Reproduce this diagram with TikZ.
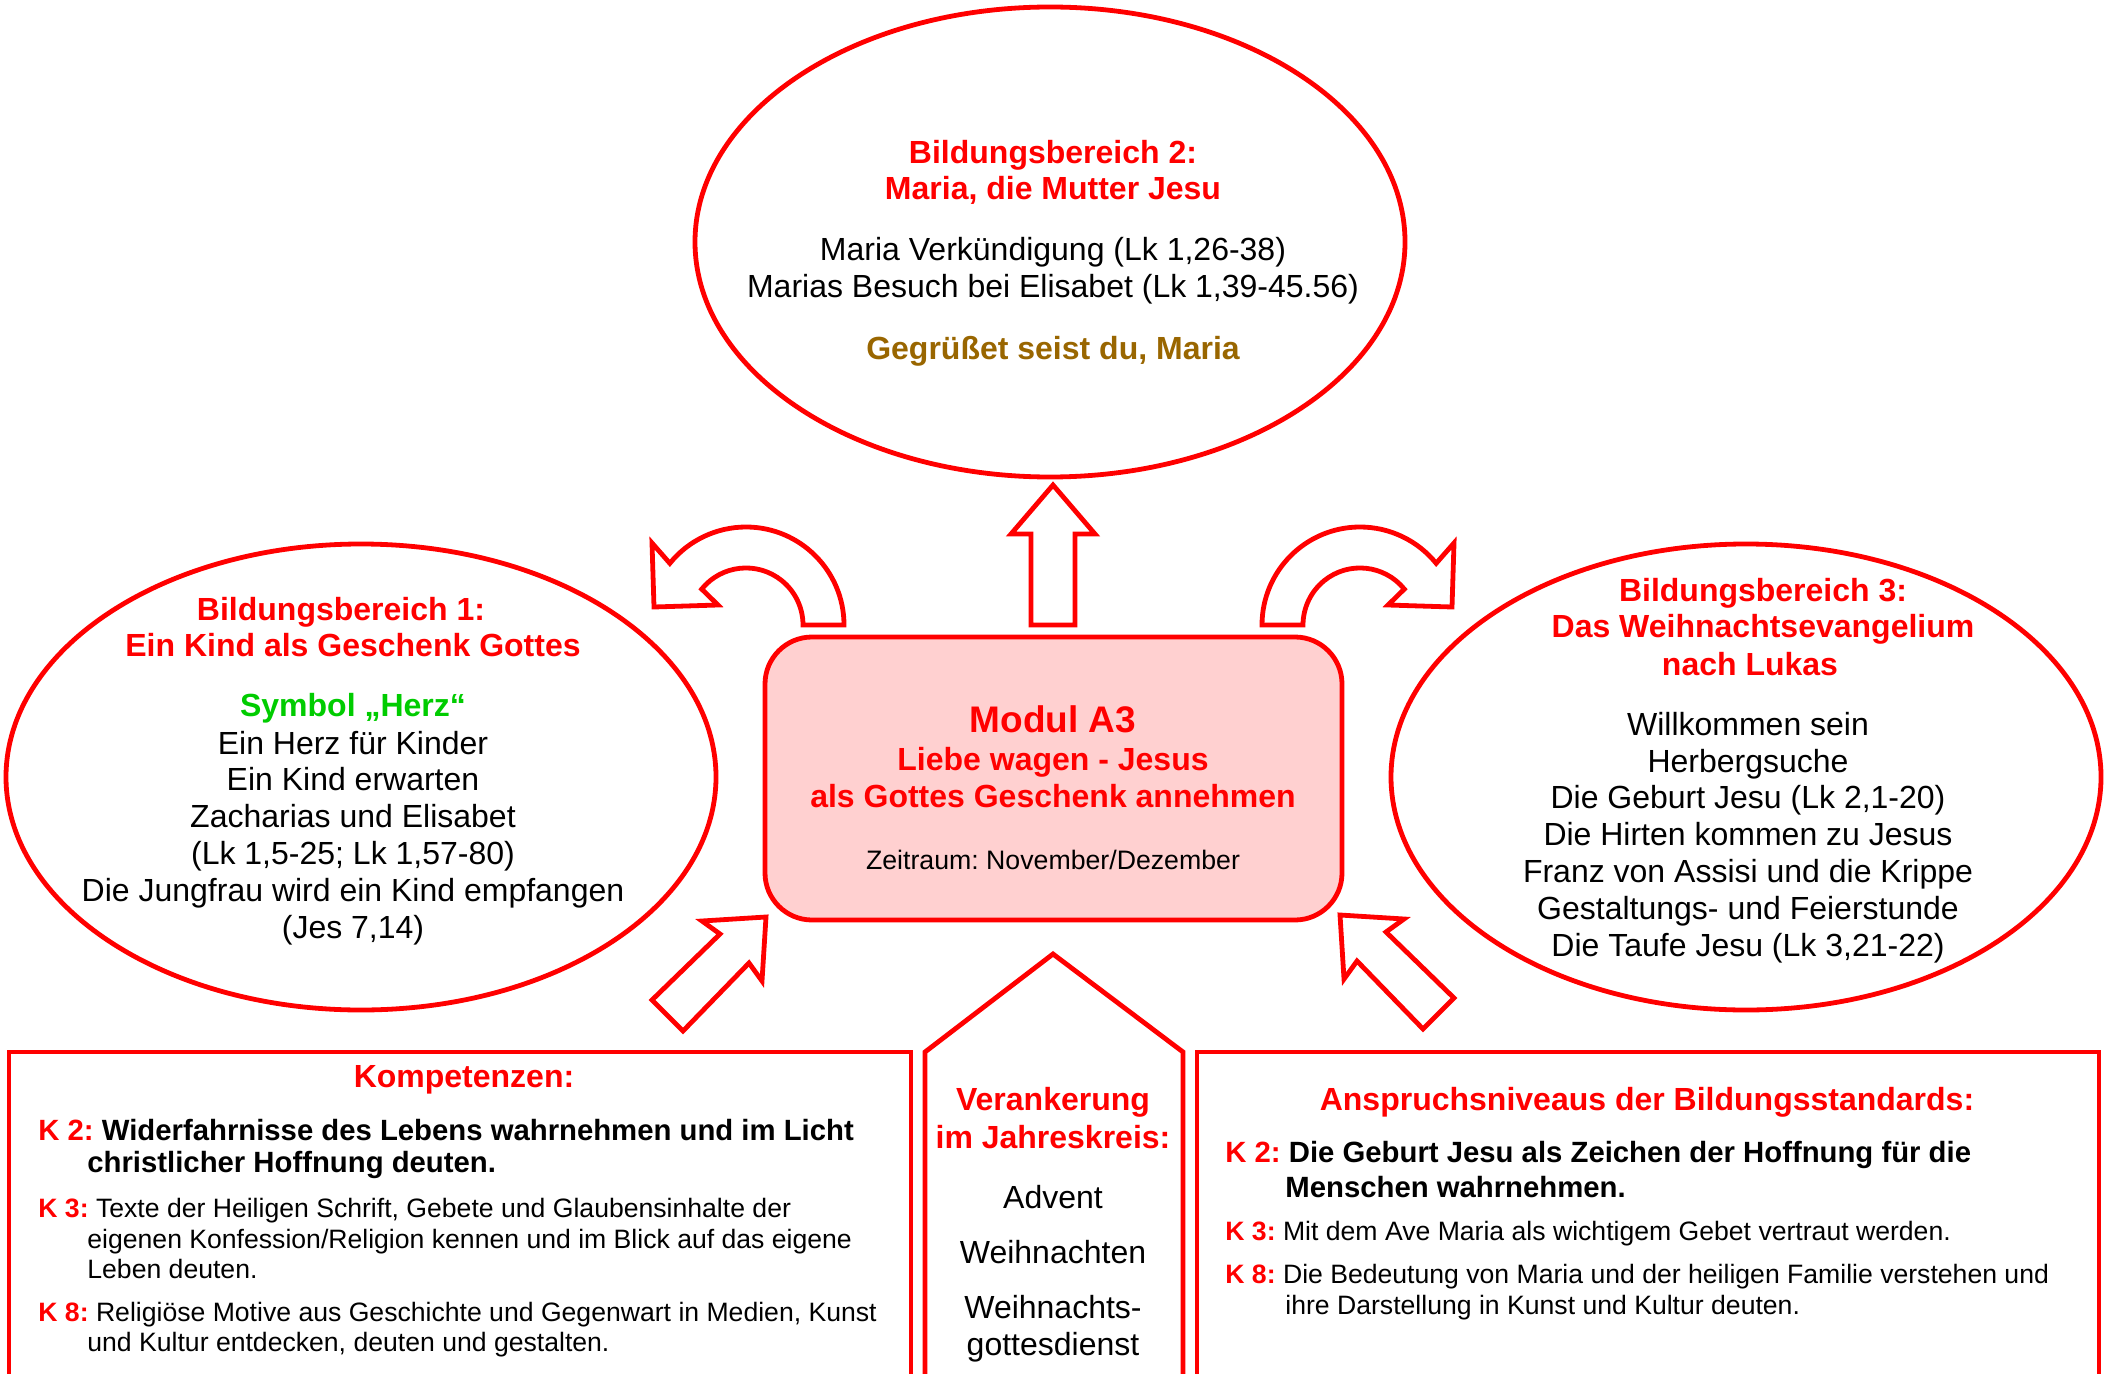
\documentclass[tikz,border=0pt]{standalone}
\usepackage{fontspec}
\setmainfont{Liberation Sans}
\usetikzlibrary{shapes.geometric}
\frenchspacing

\definecolor{greeting}{RGB}{153,102,0}
\definecolor{herzgreen}{RGB}{0,204,0}
\definecolor{modulfill}{RGB}{255,208,208}

% font sizes
\newcommand\szmain{\fontsize{16pt}{18.4pt}\selectfont}
\newcommand\szmodul{\fontsize{18.5pt}{21pt}\selectfont}
\newcommand\szzeit{\fontsize{13.35pt}{15pt}\selectfont}
\newcommand\szkbig{\fontsize{14.65pt}{16.5pt}\selectfont}
\newcommand\szksmall{\fontsize{13.3pt}{15pt}\selectfont}
\newcommand\klabel[1]{\textcolor{red}{\bfseries #1}}

\tikzset{
  outline/.style={draw=red, line width=2.4pt, line join=miter, miter limit=10},
  bubble/.style={outline, ellipse, inner sep=0pt, fill=white},
  lbl/.style={inner sep=0pt, anchor=base},
  lblw/.style={inner sep=0pt, anchor=base west},
  headline/.style={lbl, font=\szmain\bfseries, text=red},
  plain/.style={lbl, font=\szmain},
  kbig/.style={lblw, font=\szkbig\bfseries},
  ksmall/.style={lblw, font=\szksmall},
  blockarrow/.style={outline, fill=white},
}

\begin{document}
\begin{tikzpicture}[x=0.5pt,y=-0.5pt]
\useasboundingbox (0,0) rectangle (2107,1374);
\clip (0,0) rectangle (2107,1374);
\fill[white] (0,0) rectangle (2107,1374);

% --- three topic ellipses ---
\node[bubble, minimum width=355pt, minimum height=235pt] (bb2) at (1050,242) {};
\node[bubble, minimum width=355pt, minimum height=233pt] (bb1) at (361,777) {};
\node[bubble, minimum width=355pt, minimum height=233pt] (bb3) at (1746,777) {};

% --- module box in the middle ---
\node[outline, fill=modulfill, rounded corners=23.5pt, minimum width=288.5pt,
      minimum height=141.5pt, inner sep=0pt] (modul) at (1053.5,778.5) {};

% --- block arrows around the module box ---
\draw[blockarrow] (1053,485) -- (1095,534) -- (1075,534) -- (1075,625)
  -- (1031,625) -- (1031,534) -- (1011,534) -- cycle;
\draw[blockarrow] (844,625) arc[start angle=0, end angle=-141, radius=98]
  -- (652,543) -- (654,607) -- (718,605) -- (701.7,589.1)
  arc[start angle=-141, end angle=0, radius=57] -- cycle;
\draw[blockarrow] (1262,625) arc[start angle=180, end angle=321, radius=98]
  -- (1454,543) -- (1452,607) -- (1388,605) -- (1404.3,589.1)
  arc[start angle=321, end angle=180, radius=57] -- cycle;
\draw[blockarrow] (766,917) -- (762,981) -- (749,963) -- (683,1031)
  -- (652,1000) -- (720,934) -- (702,921) -- cycle;
\draw[blockarrow] (1340,915) -- (1404,919) -- (1386,932) -- (1454,998)
  -- (1423,1029) -- (1357,961) -- (1344,979) -- cycle;

% --- bottom panels (open at the lower edge) ---
\draw[outline] (9,1380) -- (9,1052) -- (911,1052) -- (911,1380);
\draw[outline] (925,1380) -- (925,1052) -- (1053,954) -- (1183,1052) -- (1183,1380);
\draw[outline] (1197,1380) -- (1197,1052) -- (2099,1052) -- (2099,1380);

% --- Bildungsbereich 2 ---
\node[headline] (b2t1) at (1053,163.5) {Bildungsbereich 2:};
\node[headline] (b2t2) at (1053,199.5) {Maria, die Mutter Jesu};
\node[plain] (b2l1) at (1053,260.5) {Maria Verkündigung (Lk 1,26-38)};
\node[plain] (b2l2) at (1053,297.5) {Marias Besuch bei Elisabet (Lk 1,39-45.56)};
\node[lbl, font=\szmain\bfseries, text=greeting] (b2l3) at (1053,359.5) {Gegrüßet seist du, Maria};

% --- Bildungsbereich 1 ---
\node[headline] (b1t1) at (341,620.5) {Bildungsbereich 1:};
\node[headline] (b1t2) at (353,656.5) {Ein Kind als Geschenk Gottes};
\node[lbl, font=\szmain\bfseries, text=herzgreen] (b1l1) at (353,716.5) {Symbol „Herz“};
\node[plain] (b1l2) at (353,754.5) {Ein Herz für Kinder};
\node[plain] (b1l3) at (353,790.5) {Ein Kind erwarten};
\node[plain] (b1l4) at (353,827.5) {Zacharias und Elisabet};
\node[plain] (b1l5) at (353,864.5) {(Lk 1,5-25; Lk 1,57-80)};
\node[plain] (b1l6) at (353,901.5) {Die Jungfrau wird ein Kind empfangen};
\node[plain] (b1l7) at (353,938.5) {(Jes 7,14)};

% --- Bildungsbereich 3 ---
\node[headline] (b3t1) at (1763,601.5) {Bildungsbereich 3:};
\node[headline] (b3t2) at (1763,637.5) {Das Weihnachtsevangelium};
\node[headline] (b3t3) at (1750,675.5) {nach Lukas};
\node[plain] (b3l1) at (1748,735.5) {Willkommen sein};
\node[plain] (b3l2) at (1748,772.5) {Herbergsuche};
\node[plain] (b3l3) at (1748,808.5) {Die Geburt Jesu (Lk 2,1-20)};
\node[plain] (b3l4) at (1748,845.5) {Die Hirten kommen zu Jesus};
\node[plain] (b3l5) at (1748,882.5) {Franz von Assisi und die Krippe};
\node[plain] (b3l6) at (1748,919.5) {Gestaltungs- und Feierstunde};
\node[plain] (b3l7) at (1748,956.5) {Die Taufe Jesu (Lk 3,21-22)};

% --- module text ---
\node[lbl, font=\szmodul\bfseries, text=red] (m1) at (1053,732) {Modul A3};
\node[headline] (m2) at (1053,770.5) {Liebe wagen - Jesus};
\node[headline] (m3) at (1053,807.5) {als Gottes Geschenk annehmen};
\node[lbl, font=\szzeit] (m4) at (1053,869.6) {Zeitraum: November/Dezember};

% --- Kompetenzen ---
\node[headline] (kt) at (464,1087.5) {Kompetenzen:};
\node[kbig] (k2a) at (38,1140.5) {\klabel{K 2:} Widerfahrnisse des Lebens wahrnehmen und im Licht};
\node[kbig] (k2b) at (87,1172.5) {christlicher Hoffnung deuten.};
\node[ksmall] (k3a) at (38,1217.6) {\klabel{K 3:} Texte der Heiligen Schrift, Gebete und Glaubensinhalte der};
\node[ksmall] (k3b) at (87,1248.6) {eigenen Konfession/Religion kennen und im Blick auf das eigene};
\node[ksmall] (k3c) at (87,1278.6) {Leben deuten.};
\node[ksmall] (k8a) at (38,1321.6) {\klabel{K 8:} Religiöse Motive aus Geschichte und Gegenwart in Medien, Kunst};
\node[ksmall] (k8b) at (87,1351.6) {und Kultur entdecken, deuten und gestalten.};

% --- Verankerung im Jahreskreis ---
\node[headline] (v1) at (1053,1110.5) {Verankerung};
\node[headline] (v2) at (1053,1148.5) {im Jahreskreis:};
\node[plain] (v3) at (1053,1208.5) {Advent};
\node[plain] (v4) at (1053,1263.5) {Weihnachten};
\node[plain] (v5) at (1053,1318.5) {Weihnachts-};
\node[plain] (v6) at (1053,1355.5) {gottesdienst};

% --- Anspruchsniveaus ---
\node[headline] (at) at (1647,1110.5) {Anspruchsniveaus der Bildungsstandards:};
\node[kbig] (a2a) at (1225,1162.5) {\klabel{K 2:} Die Geburt Jesu als Zeichen der Hoffnung für die};
\node[kbig] (a2b) at (1285,1197.5) {Menschen wahrnehmen.};
\node[ksmall] (a3a) at (1225,1240.6) {\klabel{K 3:} Mit dem Ave Maria als wichtigem Gebet vertraut werden.};
\node[ksmall] (a8a) at (1225,1283.6) {\klabel{K 8:} Die Bedeutung von Maria und der heiligen Familie verstehen und};
\node[ksmall] (a8b) at (1285,1314.6) {ihre Darstellung in Kunst und Kultur deuten.};
\end{tikzpicture}
\end{document}
